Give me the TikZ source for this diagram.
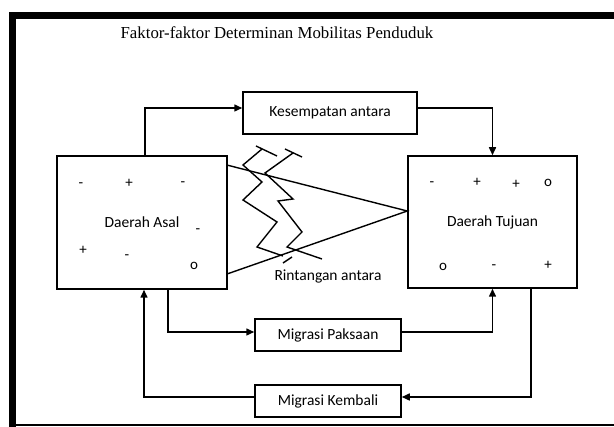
\documentclass[tikz,border=0pt]{standalone}
\usepackage{fontspec}
\setmainfont{Carlito}
\newfontfamily\titlefont{Liberation Serif}
\usetikzlibrary{arrows.meta}
\tikzset{
  kotak/.style={draw, line width=1.5pt, inner sep=0pt, font=\fontsize{15.5}{17}\selectfont},
  arr/.style={-{Triangle[length=8pt,width=7pt]}, line width=1.5pt},
  tanda/.style={font=\fontsize{15}{17}\selectfont},
  petir/.style={line width=1.4pt, line join=miter}
}
\begin{document}
\begin{tikzpicture}[x=1pt,y=-1pt]
      \useasboundingbox (0,0) rectangle (614,427);
      % bingkai
      \fill[white] (0,0) rectangle (614,427);
      \draw[line width=7pt] (12.5,435) -- (12.5,15.5) -- (620,15.5);
      \draw[line width=1.8pt] (12,425) -- (620,425);
      \node[font=\titlefont\fontsize{16.8}{19}\selectfont] (judul) at (277,33) {Faktor-faktor Determinan Mobilitas Penduduk};
      % kotak
      \draw
        (142,222.5) node[kotak, minimum width=170, minimum height=133] (asal){Daerah Asal}
        (492.5,222) node[kotak, minimum width=169, minimum height=132] (tujuan){Daerah Tujuan}
        (330,113) node[kotak, minimum width=174, minimum height=42] (kesempatan){Kesempatan antara}
        (328,335) node[kotak, minimum width=146, minimum height=32] (paksaan){Migrasi Paksaan}
        (328,401) node[kotak, minimum width=146, minimum height=32] (kembali){Migrasi Kembali};
      \node[font=\fontsize{15.5}{17}\selectfont] (rintangan) at (328,277) {Rintangan antara};
      % tanda di daerah asal
      \draw
        (81,185) node[tanda] (a1){-}
        (129,183) node[tanda] (a2){+}
        (183,184) node[tanda] (a3){-}
        (198,231) node[tanda] (a4){-}
        (83,250) node[tanda] (a5){+}
        (127,257) node[tanda] (a6){-}
        (194,266) node[tanda] (a7){o};
      % tanda di daerah tujuan
      \draw
        (432,184) node[tanda] (t1){-}
        (477,182) node[tanda] (t2){+}
        (516,184) node[tanda] (t3){+}
        (548,183) node[tanda] (t4){o}
        (443,267) node[tanda] (t5){o}
        (494,267) node[tanda] (t6){-}
        (548,265) node[tanda] (t7){+};
      % panah
      \begin{scope}[arr]
        \draw ([xshift=3pt]asal.north) |- ([yshift=5pt]kesempatan.west);
        \draw ([yshift=5pt]kesempatan.east) -| (tujuan.north);
        \draw ([xshift=26pt]asal.south) |- ([yshift=3pt]paksaan.west);
        \draw ([yshift=3pt]paksaan.east) -| (tujuan.south);
        \draw ([xshift=38.5pt]tujuan.south) |- ([yshift=4pt]kembali.east);
        \draw ([yshift=4pt]kembali.west) -| ([xshift=2pt]asal.south);
      \end{scope}
      % garis menuju daerah tujuan
      \draw[line width=1.4pt] ([yshift=-10pt]asal.north east) -- ([yshift=11pt]tujuan.west) -- ([yshift=16pt]asal.south east);
      % petir
      \begin{scope}[petir]
        \draw (256,146) -- (277,156);
        \draw (262,149) -- (243,165) -- (262,182) -- (243,200) -- (277,222) -- (257,247) -- (283,256);
        \draw (283,263) -- (292,257);
        \draw (285,149) -- (302,157);
        \draw (293,153) -- (265,173) -- (293,199) -- (278,201) -- (302,232) -- (287,247) -- (322,259);
      \end{scope}
    \end{tikzpicture}
\end{document}
